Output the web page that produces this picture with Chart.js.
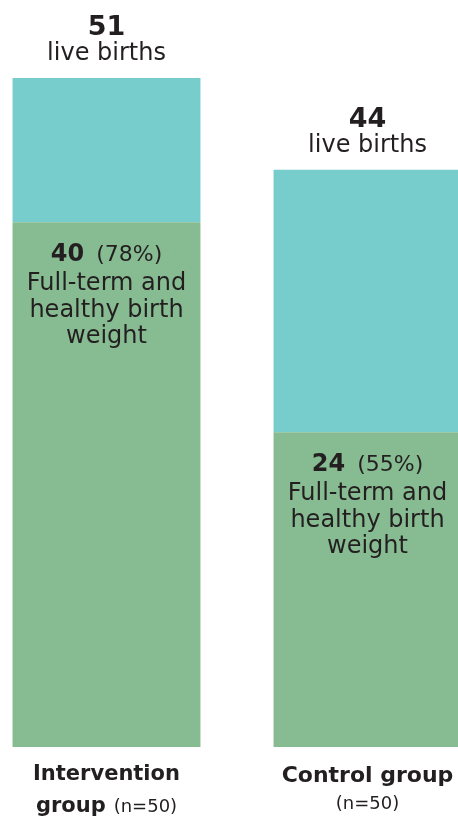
<!DOCTYPE html>
<html lang="en">
<head>
    <meta charset="UTF-8">
    <title>Live births by group</title>
    <style>
        body { margin: 0; background: #fff; overflow: hidden; }
        #wrap { position: absolute; left: -24px; top: 0; width: 522px; height: 821px; }
    </style>
</head>
<body>
    <div id="wrap"><canvas id="chart"></canvas></div>

    <script src="https://cdn.jsdelivr.net/npm/chart.js"></script>
    <script>
        // data
        var groups = ['Intervention group', 'Control group'];
        var labelLines = [['Intervention', 'group'], ['Control group']];
        var sampleSize = [50, 50];
        var liveBirths = [51, 44];
        var healthy = [40, 24];
        var otherBirths = [11, 20];
        var healthyPct = [78, 55];
        var healthyText = ['Full-term and', 'healthy birth', 'weight'];

        var ink = '#231f20';
        var FONT = '"DejaVu Sans", sans-serif';

        // draw a line made of bold/regular runs, centred on cx
        function runLine(ctx, parts, cx, y) {
            var total = 0;
            parts.forEach(function(p) {
                ctx.font = p.font;
                p.w = ctx.measureText(p.text).width;
                total += p.w + (p.gap || 0);
            });
            var x = cx - total / 2;
            ctx.textAlign = 'left';
            parts.forEach(function(p) {
                ctx.font = p.font;
                ctx.fillText(p.text, x, y);
                x += p.w + (p.gap || 0);
            });
        }

        var textPlugin = {
            id: 'barText',
            afterDatasetsDraw: function(chart) {
                var ctx = chart.ctx;
                var xs = chart.scales.x, ys = chart.scales.y;
                ctx.save();
                ctx.fillStyle = ink;
                ctx.textBaseline = 'alphabetic';
                for (var i = 0; i < groups.length; i++) {
                    var cx = xs.getPixelForValue(i);
                    var top = ys.getPixelForValue(liveBirths[i]);
                    var mid = ys.getPixelForValue(healthy[i]);
                    var bottom = ys.getPixelForValue(0);

                    // total above the bar
                    runLine(ctx, [{ text: String(liveBirths[i]), font: 'bold 27px ' + FONT }], cx, top - 43);
                    runLine(ctx, [{ text: 'live births', font: '24px ' + FONT }], cx, top - 18);

                    // healthy births inside the lower segment
                    runLine(ctx, [
                        { text: String(healthy[i]), font: 'bold 24px ' + FONT, gap: 12 },
                        { text: '(' + healthyPct[i] + '%)', font: '22px ' + FONT }
                    ], cx, mid + 39);
                    healthyText.forEach(function(t, k) {
                        runLine(ctx, [{ text: t, font: '24px ' + FONT }], cx, mid + 68 + k * 26.5);
                    });

                    // category label under the bar
                    var lines = labelLines[i];
                    var nTxt = '(n=' + sampleSize[i] + ')';
                    if (lines.length > 1) {
                        runLine(ctx, [{ text: lines[0], font: 'bold 21px ' + FONT }], cx, bottom + 33);
                        runLine(ctx, [
                            { text: lines[1], font: 'bold 21px ' + FONT, gap: 8 },
                            { text: nTxt, font: '18px ' + FONT }
                        ], cx, bottom + 65);
                    } else {
                        runLine(ctx, [{ text: lines[0], font: 'bold 22px ' + FONT }], cx, bottom + 35);
                        runLine(ctx, [{ text: nTxt, font: '18px ' + FONT }], cx, bottom + 62);
                    }
                }
                ctx.restore();
            }
        };

        new Chart(document.getElementById('chart'), {
            type: 'bar',
            data: {
                labels: groups,
                datasets: [
                    { label: 'Full-term and healthy birth weight', data: healthy, backgroundColor: '#87bb91' },
                    { label: 'Other live births', data: otherBirths, backgroundColor: '#77cdcc' }
                ]
            },
            options: {
                responsive: true,
                maintainAspectRatio: false,
                animation: false,
                layout: { padding: { top: 78, bottom: 74, left: 0, right: 0 } },
                datasets: { bar: { barPercentage: 0.72, categoryPercentage: 1, borderWidth: 0 } },
                scales: {
                    x: { stacked: true, display: false },
                    y: { stacked: true, display: false, min: 0, max: 51 }
                },
                plugins: { legend: { display: false }, tooltip: { enabled: false } }
            },
            plugins: [textPlugin]
        });
    </script>
</body>
</html>
